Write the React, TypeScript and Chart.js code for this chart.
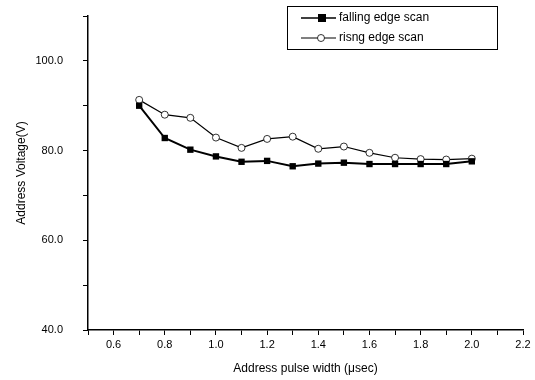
import React, { useEffect, useRef } from "react";
import { Chart, registerables } from "chart.js";
Chart.register(...registerables);

const pulseWidths = [0.7, 0.8, 0.9, 1.0, 1.1, 1.2, 1.3, 1.4, 1.5, 1.6, 1.7, 1.8, 1.9, 2.0];
const fallingEdge = [90.0, 82.8, 80.2, 78.7, 77.5, 77.7, 76.5, 77.1, 77.3, 77.0, 77.0, 77.0, 77.0, 77.6];
const risingEdge = [91.3, 88.0, 87.3, 82.9, 80.6, 82.6, 83.1, 80.4, 80.9, 79.5, 78.4, 78.1, 78.0, 78.2];
const seriesLabels = ["falling edge scan", "risng edge scan"];
const xTitle = "Address pulse width (\u03bcsec)";
const yTitle = "Address Voltage(V)";

const FONT = "'Liberation Sans', Arial, sans-serif";

const legendPlugin = {
  id: "boxLegend",
  afterDraw(chart: any) {
    const ctx = chart.ctx;
    ctx.save();
    ctx.strokeStyle = "#000";
    ctx.lineWidth = 1;
    ctx.strokeRect(287.5, 6.5, 210, 43);
    const rows = [18, 38];
    chart.data.datasets.forEach((ds: any, i: number) => {
      const y = rows[i];
      ctx.beginPath();
      ctx.strokeStyle = "#000";
      ctx.lineWidth = i === 0 ? 1.5 : 1;
      ctx.moveTo(301, y);
      ctx.lineTo(336, y);
      ctx.stroke();
      if (i === 0) {
        ctx.fillStyle = "#000";
        ctx.fillRect(318, y - 4, 8, 8);
      } else {
        ctx.beginPath();
        ctx.fillStyle = "#fff";
        ctx.arc(321, y, 3.5, 0, Math.PI * 2);
        ctx.fill();
        ctx.lineWidth = 0.8;
        ctx.stroke();
      }
      ctx.fillStyle = "#000";
      ctx.font = "12px " + FONT;
      ctx.textBaseline = "middle";
      ctx.textAlign = "left";
      ctx.fillText(ds.label, 339, y);
    });
    ctx.restore();
  },
};

export default function App() {
  const ref = useRef<HTMLCanvasElement>(null);
  useEffect(() => {
    const chart = new Chart(ref.current!, {
      type: "line",
      data: {
        datasets: [
          {
            label: seriesLabels[0],
            data: pulseWidths.map((x, i) => ({ x, y: fallingEdge[i] })),
            borderColor: "#000",
            backgroundColor: "#000",
            borderWidth: 2,
            pointStyle: "rect",
            pointRadius: 4.5,
            pointBorderWidth: 0,
            tension: 0,
          },
          {
            label: seriesLabels[1],
            data: pulseWidths.map((x, i) => ({ x, y: risingEdge[i] })),
            borderColor: "#000",
            backgroundColor: "#fff",
            borderWidth: 1.2,
            pointStyle: "circle",
            pointRadius: 3.5,
            pointBorderWidth: 0.8,
            tension: 0,
          },
        ],
      },
      options: {
        animation: false,
        responsive: false,
        maintainAspectRatio: false,
        layout: { padding: { top: 16, right: 12, left: 0, bottom: 0 } },
        plugins: { legend: { display: false }, tooltip: { enabled: false } },
        scales: {
          x: {
            type: "linear",
            min: 0.5,
            max: 2.2,
            border: { display: true, color: "#000", width: 1.5 },
            grid: { display: true, drawOnChartArea: false, drawTicks: true, tickLength: 5, color: "#000" },
            ticks: {
              stepSize: 0.1,
              autoSkip: false,
              maxRotation: 0,
              color: "#000",
              font: { family: FONT, size: 11 },
              padding: 3,
              callback: (v: any) => {
                const n = Math.round(Number(v) * 10);
                return n % 2 === 0 ? (n / 10).toFixed(1) : "";
              },
            },
            title: { display: true, text: xTitle, color: "#000", font: { family: FONT, size: 12 }, padding: { top: 10 } },
            afterFit: (s: any) => {
              s.height = 50;
              s.paddingLeft = 0;
              s.paddingRight = 0;
            },
          },
          y: {
            type: "linear",
            min: 40,
            max: 110,
            border: { display: true, color: "#000", width: 1.5 },
            grid: { display: true, drawOnChartArea: false, drawTicks: true, tickLength: 5, color: "#000" },
            ticks: {
              stepSize: 10,
              autoSkip: false,
              color: "#000",
              font: { family: FONT, size: 11 },
              padding: 20,
              callback: (v: any) => {
                const n = Math.round(Number(v));
                return n % 20 === 0 && n <= 100 ? n.toFixed(1) : "";
              },
            },
            title: { display: true, text: yTitle, color: "#000", font: { family: FONT, size: 12 }, padding: { top: 14, bottom: 0 } },
            afterFit: (s: any) => {
              s.width = 88;
              s.paddingTop = 0;
              s.paddingBottom = 0;
            },
          },
        },
      },
      plugins: [legendPlugin],
    });
    return () => chart.destroy();
  }, []);
  return (
    <div style={{ position: "absolute", left: 0, top: 0, width: 535, height: 380, background: "#fff" }}>
      <canvas ref={ref} width={535} height={380} style={{ display: "block" }} />
    </div>
  );
}
